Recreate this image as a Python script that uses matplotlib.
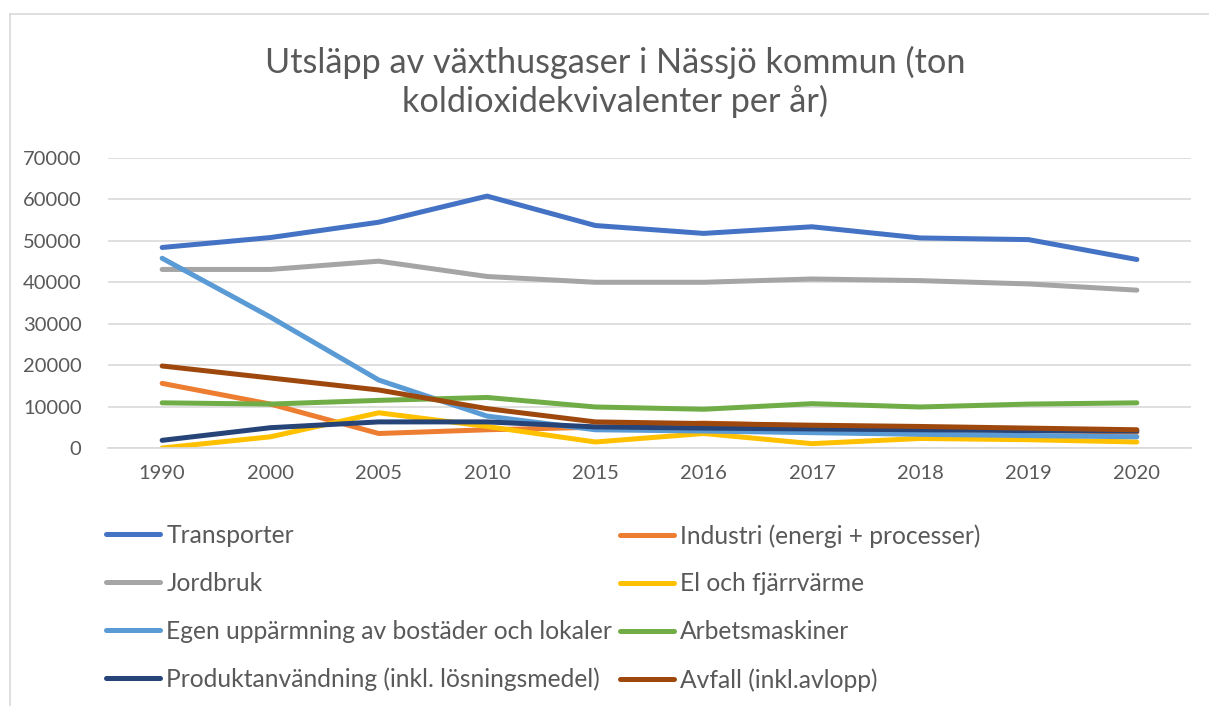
import matplotlib
matplotlib.use('Agg')
import matplotlib.pyplot as plt
from matplotlib.lines import Line2D

plt.rcParams['font.family'] = ['Lato', 'DejaVu Sans']

years = ['1990', '2000', '2005', '2010', '2015', '2016', '2017', '2018', '2019', '2020']

transporter = [48400, 50800, 54500, 60800, 53700, 51800, 53400, 50700, 50300, 45500]
industri = [15600, 10600, 3500, 4400, 5000, 6000, 5300, 4800, 4300, 3800]
jordbruk = [43100, 43100, 45100, 41400, 40000, 40000, 40800, 40400, 39600, 38100]
el_fjarrvarme = [0, 2700, 8500, 5200, 1450, 3500, 1050, 2300, 2000, 1450]
egen_uppvarmning = [45800, 31600, 16400, 7700, 4400, 4100, 3700, 3300, 3000, 2700]
arbetsmaskiner = [10900, 10600, 11500, 12200, 9900, 9350, 10700, 9900, 10600, 10900]
produkt = [1850, 4900, 6300, 6300, 5100, 4800, 4600, 4400, 4200, 4100]
avfall = [19800, 16900, 14000, 9500, 6300, 5900, 5500, 5200, 4800, 4400]

series_names = ['Transporter', 'Industri (energi + processer)', 'Jordbruk', 'El och fjärrvärme',
                'Egen uppärmning av bostäder och lokaler', 'Arbetsmaskiner',
                'Produktanvändning (inkl. lösningsmedel)', 'Avfall (inkl.avlopp)']
series_values = [transporter, industri, jordbruk, el_fjarrvarme, egen_uppvarmning,
                 arbetsmaskiner, produkt, avfall]
colors = ['#4472C4', '#ED7D31', '#A5A5A5', '#FFC000', '#5B9BD5', '#70AD47', '#264478', '#9E480E']

txt = '#595959'
W, H = 1209, 706
fig = plt.figure(figsize=(W / 100, H / 100), dpi=100)
ax = fig.add_axes([108 / W, 1 - 448 / H, (1191 - 108) / W, (448 - 158) / H])

x = range(len(years))
handles = []
for name, vals, c in zip(series_names, series_values, colors):
    h, = ax.plot(x, vals, color=c, lw=3.6, solid_capstyle='round', solid_joinstyle='round', label=name)
    handles.append(h)

ax.set_xlim(-0.5, len(years) - 0.5)
ax.set_ylim(0, 70000)
ax.set_yticks(range(0, 70001, 10000))
ax.set_xticks(list(x))
ax.set_xticklabels(years)
ax.grid(axis='y', color='#d9d9d9', lw=1.2)
ax.set_axisbelow(True)
for s in ['top', 'right', 'left']:
    ax.spines[s].set_visible(False)
ax.spines['bottom'].set_color('#d9d9d9')
ax.spines['bottom'].set_linewidth(1.2)
ax.tick_params(length=0, labelsize=14.5, labelcolor=txt)
ax.tick_params(axis='y', pad=19)
ax.tick_params(axis='x', pad=12)

fig.text(0.509, 1 - 82 / H, 'Utsläpp av växthusgaser i Nässjö kommun (ton\nkoldioxidekvivalenter per år)',
         ha='center', va='center', fontsize=24.7, color=txt, linespacing=1.2)

# legend in two columns, row-wise order like the original
leg_kw = dict(loc='upper left', frameon=False, fontsize=17.7, handlelength=2.2,
              handletextpad=0.25, labelspacing=1.01, labelcolor=txt,
              borderpad=0, borderaxespad=0)
left_idx = [0, 2, 4, 6]
right_idx = [1, 3, 5, 7]
leg1 = fig.legend([handles[i] for i in left_idx], [series_names[i] for i in left_idx],
                  bbox_to_anchor=(106 / W, 1 - 524 / H), **leg_kw)
leg2 = fig.legend([handles[i] for i in right_idx], [series_names[i] for i in right_idx],
                  bbox_to_anchor=(620 / W, 1 - 524 / H), **leg_kw)

# chart border (left and top visible)
fig.add_artist(Line2D([10 / W, 10 / W], [0, 1 - 14 / H], transform=fig.transFigure,
                      color='#d9d9d9', lw=1.2))
fig.add_artist(Line2D([10 / W, 1], [1 - 14 / H, 1 - 14 / H], transform=fig.transFigure,
                      color='#d9d9d9', lw=1.2))

fig.savefig('out.png', dpi=100)
